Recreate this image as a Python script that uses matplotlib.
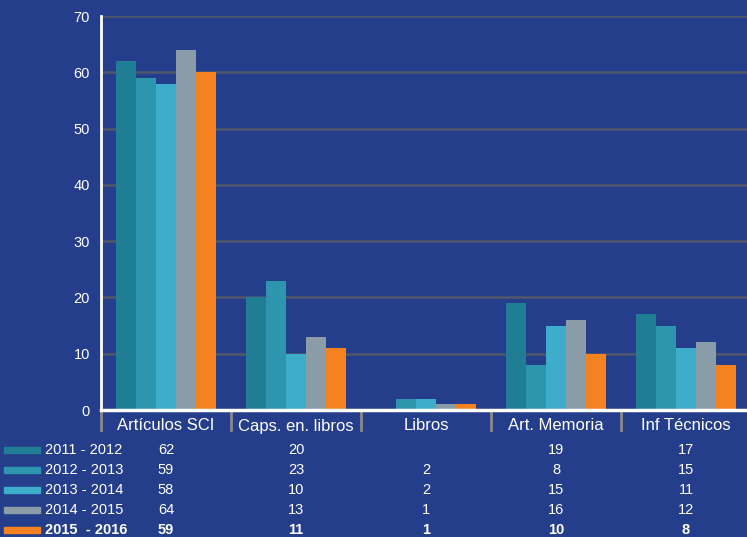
import numpy as np
import matplotlib.pyplot as plt
from matplotlib.patches import Rectangle
import matplotlib.transforms as mtransforms

# datos
categorias = ["Artículos SCI", "Caps. en. libros", "Libros", "Art. Memoria", "Inf Técnicos"]
periodos = ["2011 - 2012", "2012 - 2013", "2013 - 2014", "2014 - 2015", "2015  - 2016"]
v_2011 = [62, 20, 0, 19, 17]
v_2012 = [59, 23, 2, 8, 15]
v_2013 = [58, 10, 2, 15, 11]
v_2014 = [64, 13, 1, 16, 12]
v_2015 = [60, 11, 1, 10, 8]
# valores tal como aparecen en la tabla
tabla = [
    ["62", "20", "", "19", "17"],
    ["59", "23", "2", "8", "15"],
    ["58", "10", "2", "15", "11"],
    ["64", "13", "1", "16", "12"],
    ["59", "11", "1", "10", "8"],
]
series = [v_2011, v_2012, v_2013, v_2014, v_2015]
colores = ["#1f7e93", "#2e95ae", "#3eaccb", "#8a9ca8", "#f58220"]

fondo = "#253e8c"
W, H = 747, 537
fig = plt.figure(figsize=(W / 100, H / 100), dpi=100, facecolor=fondo)
plt.rcParams['font.family'] = ['Liberation Sans', 'DejaVu Sans']

x0, x1, y0, y1 = 101, 747, 16, 410
ax = fig.add_axes([x0 / W, 1 - y1 / H, (x1 - x0) / W, (y1 - y0) / H])
ax.set_facecolor(fondo)

x = np.arange(len(categorias))
ancho = 20 / 130
for i, s in enumerate(series):
    ax.bar(x + (i - 2) * ancho, s, width=ancho, color=colores[i], zorder=3)

ax.set_xlim(-0.5, -0.5 + (x1 - x0) / 130)
ax.set_ylim(0, 70)
ax.set_yticks(range(0, 71, 10))
ax.yaxis.grid(True, color="#51566a", linewidth=1.8, zorder=1)
ax.tick_params(axis="y", length=0, colors="white", labelsize=10.5, pad=8)
ax.set_xticks([])
for lado in ["top", "right"]:
    ax.spines[lado].set_visible(False)
ax.spines["left"].set_color("white")
ax.spines["left"].set_linewidth(2)
ax.spines["bottom"].set_color("white")
ax.spines["bottom"].set_linewidth(2.5)
ax.spines["bottom"].set_zorder(4)

# separadores y etiquetas de categoria
trans = mtransforms.blended_transform_factory(ax.transData, fig.transFigure)
for b in np.arange(-0.5, 4.6, 1.0):
    ax.plot([b, b], [1 - 412 / H, 1 - 430 / H], transform=trans, color="#8a8a8a",
            linewidth=2, clip_on=False)
for i, c in enumerate(categorias):
    fig.text(i, 1 - 426 / H, c, transform=trans, ha="center", va="center",
             color="white", fontsize=12)

# tabla de datos con leyenda
filas_y = [450, 470, 490, 510, 530]
for j, p in enumerate(periodos):
    yy = 1 - filas_y[j] / H
    fig.patches.append(Rectangle((4 / W, yy - 3 / H), 36 / W, 6 / H,
                                 transform=fig.transFigure, color=colores[j]))
    peso = "bold" if j == 4 else "normal"
    fig.text(45 / W, yy, p, ha="left", va="center", color="white",
             fontsize=10.5, fontweight=peso)
    for i in range(len(categorias)):
        fig.text(i, yy, tabla[j][i], transform=trans, ha="center", va="center",
                 color="white", fontsize=10.5, fontweight=peso)

fig.savefig("out.png", dpi=100, facecolor=fondo)
